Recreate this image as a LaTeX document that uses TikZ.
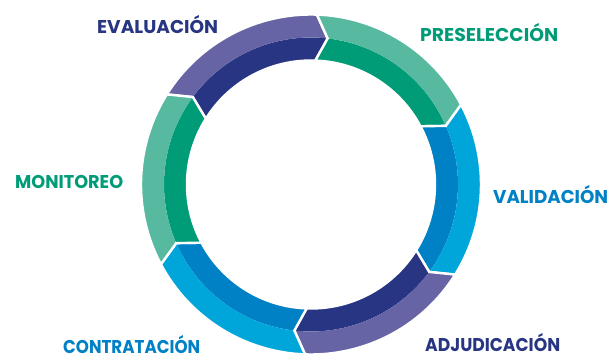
\documentclass[tikz,border=0pt]{standalone}
\usepackage{fontspec}
\setmainfont{Poppins}
\definecolor{purL}{HTML}{6764A6}
\definecolor{purD}{HTML}{273583}
\definecolor{grnL}{HTML}{57B9A0}
\definecolor{grnD}{HTML}{009C78}
\definecolor{bluL}{HTML}{00A6DA}
\definecolor{bluD}{HTML}{0080C5}
\newcommand\rin{124}
\newcommand\rmid{147}
\newcommand\rout{170}
\newcommand\chev{4.5}
% #1 start angle (larger), #2 end angle, #3 light colour, #4 dark colour
\newcommand\ringseg[4]{%
  \fill[#4] (#1:\rin pt) arc[start angle=#1, end angle=#2, radius=\rin pt]
     -- (#2-\chev:\rmid pt) arc[start angle=#2-\chev, end angle=#1-\chev, radius=\rmid pt] -- cycle;
  \fill[#3] (#1:\rout pt) arc[start angle=#1, end angle=#2, radius=\rout pt]
     -- (#2-\chev:\rmid pt) arc[start angle=#2-\chev, end angle=#1-\chev, radius=\rmid pt] -- cycle;
  \draw[segedge] (#1:\rout pt) arc[start angle=#1, end angle=#2, radius=\rout pt]
     -- (#2-\chev:\rmid pt) -- (#2:\rin pt)
     arc[start angle=#2, end angle=#1, radius=\rin pt] -- (#1-\chev:\rmid pt) -- cycle;
}
\newcommand\fitw[2]{\resizebox{#1pt}{\height}{#2}}
\begin{document}
\begin{tikzpicture}[x=1pt,y=1pt,
  segedge/.style={draw=white, line width=2.4pt, line join=miter},
  lbl/.style={anchor=base west, inner sep=0pt, font=\fontsize{18.5}{20}\selectfont\bfseries}]
\useasboundingbox (-311,-173.5) rectangle (303,184.5);
\ringseg{148}{88}{purL}{purD}
\ringseg{88}{28}{grnL}{grnD}
\ringseg{28}{-32}{bluL}{bluD}
\ringseg{-32}{-92}{purL}{purD}
\ringseg{-92}{-152}{bluL}{bluD}
\ringseg{208}{148}{grnL}{grnD}
\node[lbl, text=purD] (eval) at (-214,151.2) {\fitw{121}{EVALUACIÓN}};
\node[lbl, text=grnD] (pres) at (109,142.8) {\fitw{138}{PRESELECCIÓN}};
\node[lbl, text=bluD] (vali) at (182,-18.8) {\fitw{115}{VALIDACIÓN}};
\node[lbl, text=purD] (adju) at (114,-167.2) {\fitw{135}{ADJUDICACIÓN}};
\node[lbl, text=bluD] (cont) at (-248,-168.8) {\fitw{137}{CONTRATACIÓN}};
\node[lbl, text=grnD] (moni) at (-296,-4.5) {\fitw{108}{MONITOREO}};
\end{tikzpicture}
\end{document}
